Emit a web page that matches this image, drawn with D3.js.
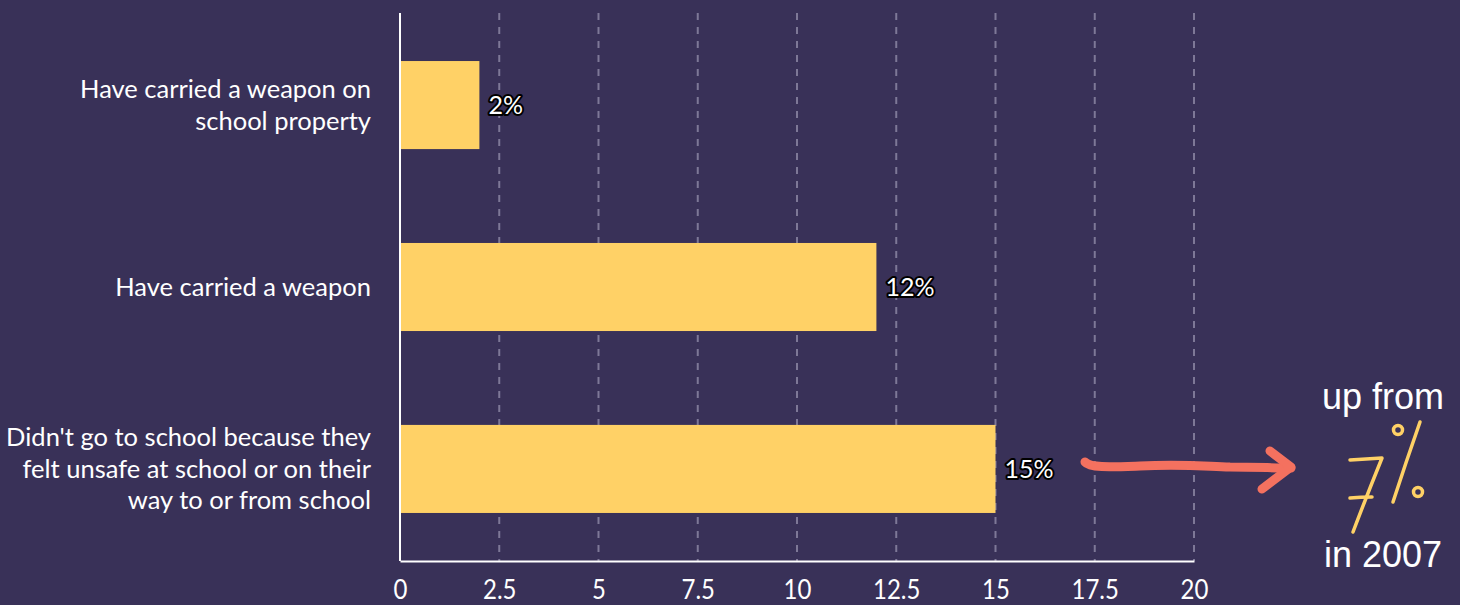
<!DOCTYPE html>
<html><head><meta charset="utf-8">
<script src="https://cdn.jsdelivr.net/npm/d3@7"></script>
<style>
html,body{margin:0;padding:0;background:#393158;}
svg{display:block;}
</style></head>
<body>
<svg id="chart" width="1460" height="605"></svg>
<script>
const categories = [
  ["Have carried a weapon on", "school property"],
  ["Have carried a weapon"],
  ["Didn't go to school because they", "felt unsafe at school or on their", "way to or from school"]
];
const values = [2, 12, 15];
const valueLabels = ["2%", "12%", "15%"];
const tickValues = [0, 2.5, 5, 7.5, 10, 12.5, 15, 17.5, 20];
const annotationTop = "up from";
const annotationValue = "7%";
const annotationBottom = "in 2007";

const svg = d3.select("#chart");
const bg = "#393158";
svg.append("rect").attr("width",1460).attr("height",605).attr("fill",bg);

const x = d3.scaleLinear().domain([0,20]).range([400,1194]);
const y = d3.scaleBand().domain(d3.range(values.length)).range([13,561]).paddingInner(0.516).paddingOuter(0.264);

// gridlines
svg.append("g").selectAll("line").data(tickValues.filter(d=>d>0)).join("line")
  .attr("x1",d=>x(d)).attr("x2",d=>x(d)).attr("y1",13).attr("y2",561)
  .attr("stroke","#7e7897").attr("stroke-width",2).attr("stroke-dasharray","7,7");

// bars
svg.append("g").selectAll("rect").data(values).join("rect")
  .attr("x",x(0)).attr("y",(d,i)=>y(i)).attr("width",d=>x(d)-x(0)).attr("height",y.bandwidth())
  .attr("fill","#ffd166");

// axes lines
svg.append("line").attr("x1",x(0)).attr("x2",x(0)).attr("y1",13).attr("y2",561).attr("stroke","#fff").attr("stroke-width",2);
const xAxis = d3.axisBottom(x).tickValues(tickValues).tickSize(0).tickFormat(d3.format("~g"));
const gx = svg.append("g").attr("transform","translate(0,561)").call(xAxis);
gx.select(".domain").attr("stroke","#fff").attr("stroke-width",2);
gx.selectAll("text").attr("fill","#fff").attr("y",0).attr("dy",null)
  .attr("transform","translate(0,38) scale(1,1.1)")
  .style("font-family","Lato, sans-serif").style("font-size","24px");

// category labels
const lineH = 31.5;
const cat = svg.append("g");
categories.forEach((lines,i)=>{
  const cy = y(i)+y.bandwidth()/2;
  const t = cat.append("text").attr("x",371).attr("text-anchor","end")
    .attr("fill","#fff").style("font-family","Lato, sans-serif").style("font-size","25.5px");
  lines.forEach((l,j)=>{
    t.append("tspan").attr("x",371).attr("y",cy + (j-(lines.length-1)/2)*lineH).attr("dy","0.35em").text(l);
  });
});

// value labels
svg.append("g").selectAll("text").data(values).join("text")
  .attr("x",d=>x(d)+9).attr("y",(d,i)=>y(i)+y.bandwidth()/2).attr("dy","0.35em")
  .attr("fill","#fff").attr("stroke","#000").attr("stroke-width",4).attr("paint-order","stroke")
  .attr("stroke-linejoin","round")
  .style("font-family","Lato, sans-serif").style("font-size","25px")
  .text((d,i)=>valueLabels[i]);

// annotation arrow
const arrow = svg.append("g").attr("fill","none").attr("stroke","#f4715f").attr("stroke-width",9)
  .attr("stroke-linecap","round").attr("stroke-linejoin","round");
arrow.append("path").attr("d","M1085,462 C1090,468 1110,467 1140,466 C1180,464 1200,466 1230,467 C1255,467 1275,468 1291,468");
arrow.append("path").attr("d","M1270,451 L1291,467 L1262,489");

// annotation text
svg.append("text").attr("x",1383).attr("y",409).attr("text-anchor","middle").attr("fill","#fff")
  .style("font-family","'Liberation Sans', Arial, sans-serif").style("font-size","36px").text(annotationTop);
svg.append("text").attr("x",1383).attr("y",567).attr("text-anchor","middle").attr("fill","#fff")
  .style("font-family","'Liberation Sans', Arial, sans-serif").style("font-size","36px").text(annotationBottom);

// handwritten 7%
const hw = svg.append("g").attr("fill","none").attr("stroke","#ffd166").attr("stroke-width",3.5)
  .attr("stroke-linecap","round").attr("stroke-linejoin","round");
hw.append("title").text(annotationValue);
hw.append("path").attr("d","M1350,460 Q1366,459 1382,458 Q1367,495 1353,532");
hw.append("path").attr("d","M1350,498 Q1361,497 1372,497");
hw.append("path").attr("d","M1420,422 Q1406,462 1393,502");
hw.append("circle").attr("cx",1398).attr("cy",430).attr("r",4.5);
hw.append("circle").attr("cx",1418).attr("cy",492).attr("r",4.5);
</script>
</body></html>
